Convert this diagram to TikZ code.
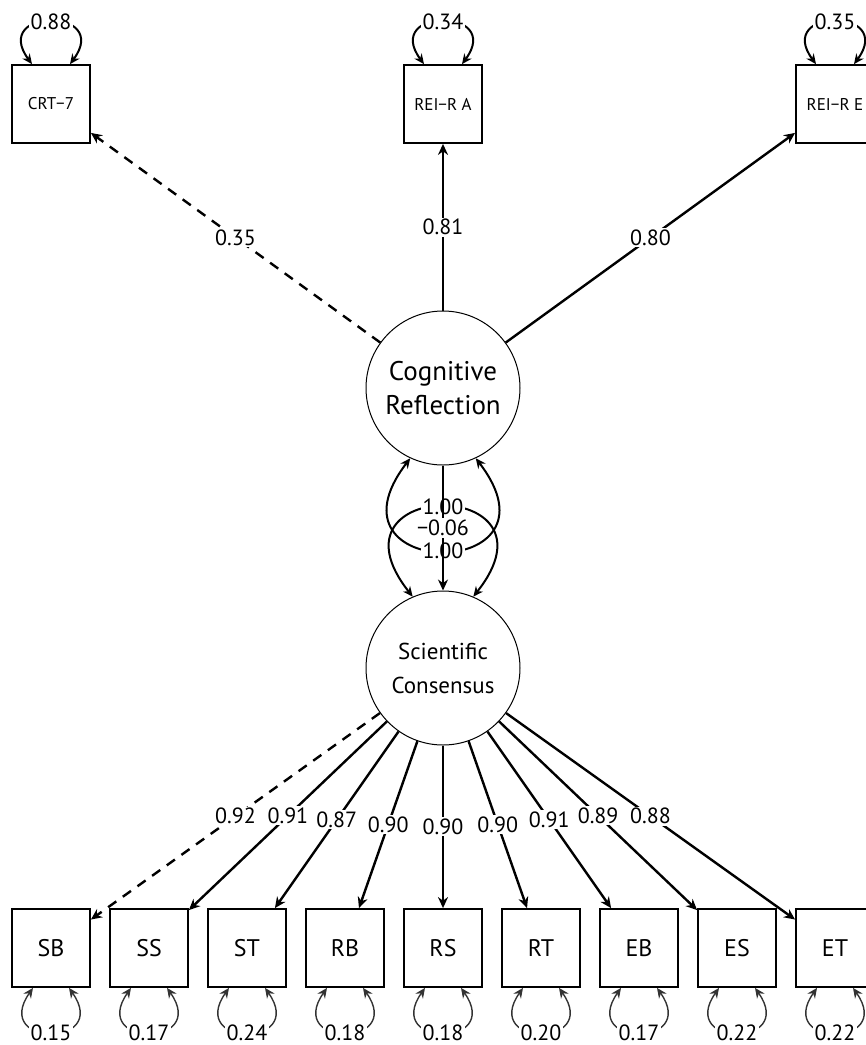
\documentclass[tikz,border=0pt]{standalone}
\usepackage{fontspec}
\setmainfont{PT Sans}
\usetikzlibrary{arrows.meta}

\begin{document}
\begin{tikzpicture}[x=0.5pt, y=-0.5pt,
  obsbox/.style={draw, line width=0.9pt, minimum size=39pt, inner sep=0pt, font=\fontsize{12}{14}\selectfont},
  topbox/.style={obsbox, font=\fontsize{8.5}{10}\selectfont},
  latent/.style={draw, circle, line width=0.5pt, minimum size=77pt, inner sep=0pt, align=center},
  load/.style={line width=1.2pt, -{Stealth[length=5.5pt, width=5pt]}},
  varloop/.style={line width=1pt, {Stealth[length=5pt, width=4.5pt]}-{Stealth[length=5pt, width=4.5pt]}},
  est/.style={fill=white, inner sep=0.8pt, font=\fontsize{11}{13}\selectfont}]
\useasboundingbox (0,0) rectangle (866,1045);
% Latent factors
\node[latent, font=\fontsize{13.5}{17}\selectfont] (cog) at (443,388) {Cognitive\\Reflection};
\node[latent, font=\fontsize{11.5}{17}\selectfont] (sci) at (443,668) {Scientific\\Consensus};
% Top indicators
\node[topbox] (crt) at (51,104) {CRT−7};
\node[topbox] (reia) at (443,104) {REI−R A};
\node[topbox] (reie) at (835,104) {REI−R E};
\draw[load, dashed, dash pattern=on 5pt off 4pt] (cog) -- node[est]{0.35} (crt);
\draw[load] (cog) -- node[est]{0.81} (reia);
\draw[load] (cog) -- node[est]{0.80} (reie);
\foreach \name/\var in {crt/0.88, reia/0.34, reie/0.35}
  \draw[varloop] ([shift={(-19,0)}]\name.north) .. controls +(-42,-57) and +(42,-57) .. node[est]{\var} ([shift={(19,0)}]\name.north);
% Factor variances and covariance
\draw[varloop] (cog.245) .. controls +(-95,124) and +(95,124) .. node[est]{1.00} (cog.295);
\draw[varloop] (sci.113) .. controls +(-95,-120) and +(95,-120) .. node[est]{1.00} (sci.67);
\draw[load, line width=0.7pt] (cog) -- node[est]{−0.06} (sci);
% Bottom indicators
\foreach \name/\lbl/\x/\var in {sb/SB/51/0.15, ss/SS/149/0.17, st/ST/247/0.24,
    rb/RB/345/0.18, rs/RS/443/0.18, rt/RT/541/0.20,
    eb/EB/639/0.17, es/ES/737/0.22, et/ET/835/0.22} {
  \node[obsbox] (\name) at (\x,948) {\lbl};
  \draw[varloop, line width=0.7pt, black!80] ([shift={(-18,0)}]\name.south) .. controls +(-42,60) and +(42,60) .. node[est, text=black]{\var} ([shift={(18,0)}]\name.south);
}
\foreach \name/\ld in {ss/0.91, st/0.87, rb/0.90, rs/0.90, rt/0.90, eb/0.91, es/0.89, et/0.88}
  \draw[load] (sci) -- node[est]{\ld} (\name);
\draw[load, dashed, dash pattern=on 5pt off 4pt] (sci) -- node[est]{0.92} (sb);
\end{tikzpicture}
\end{document}
